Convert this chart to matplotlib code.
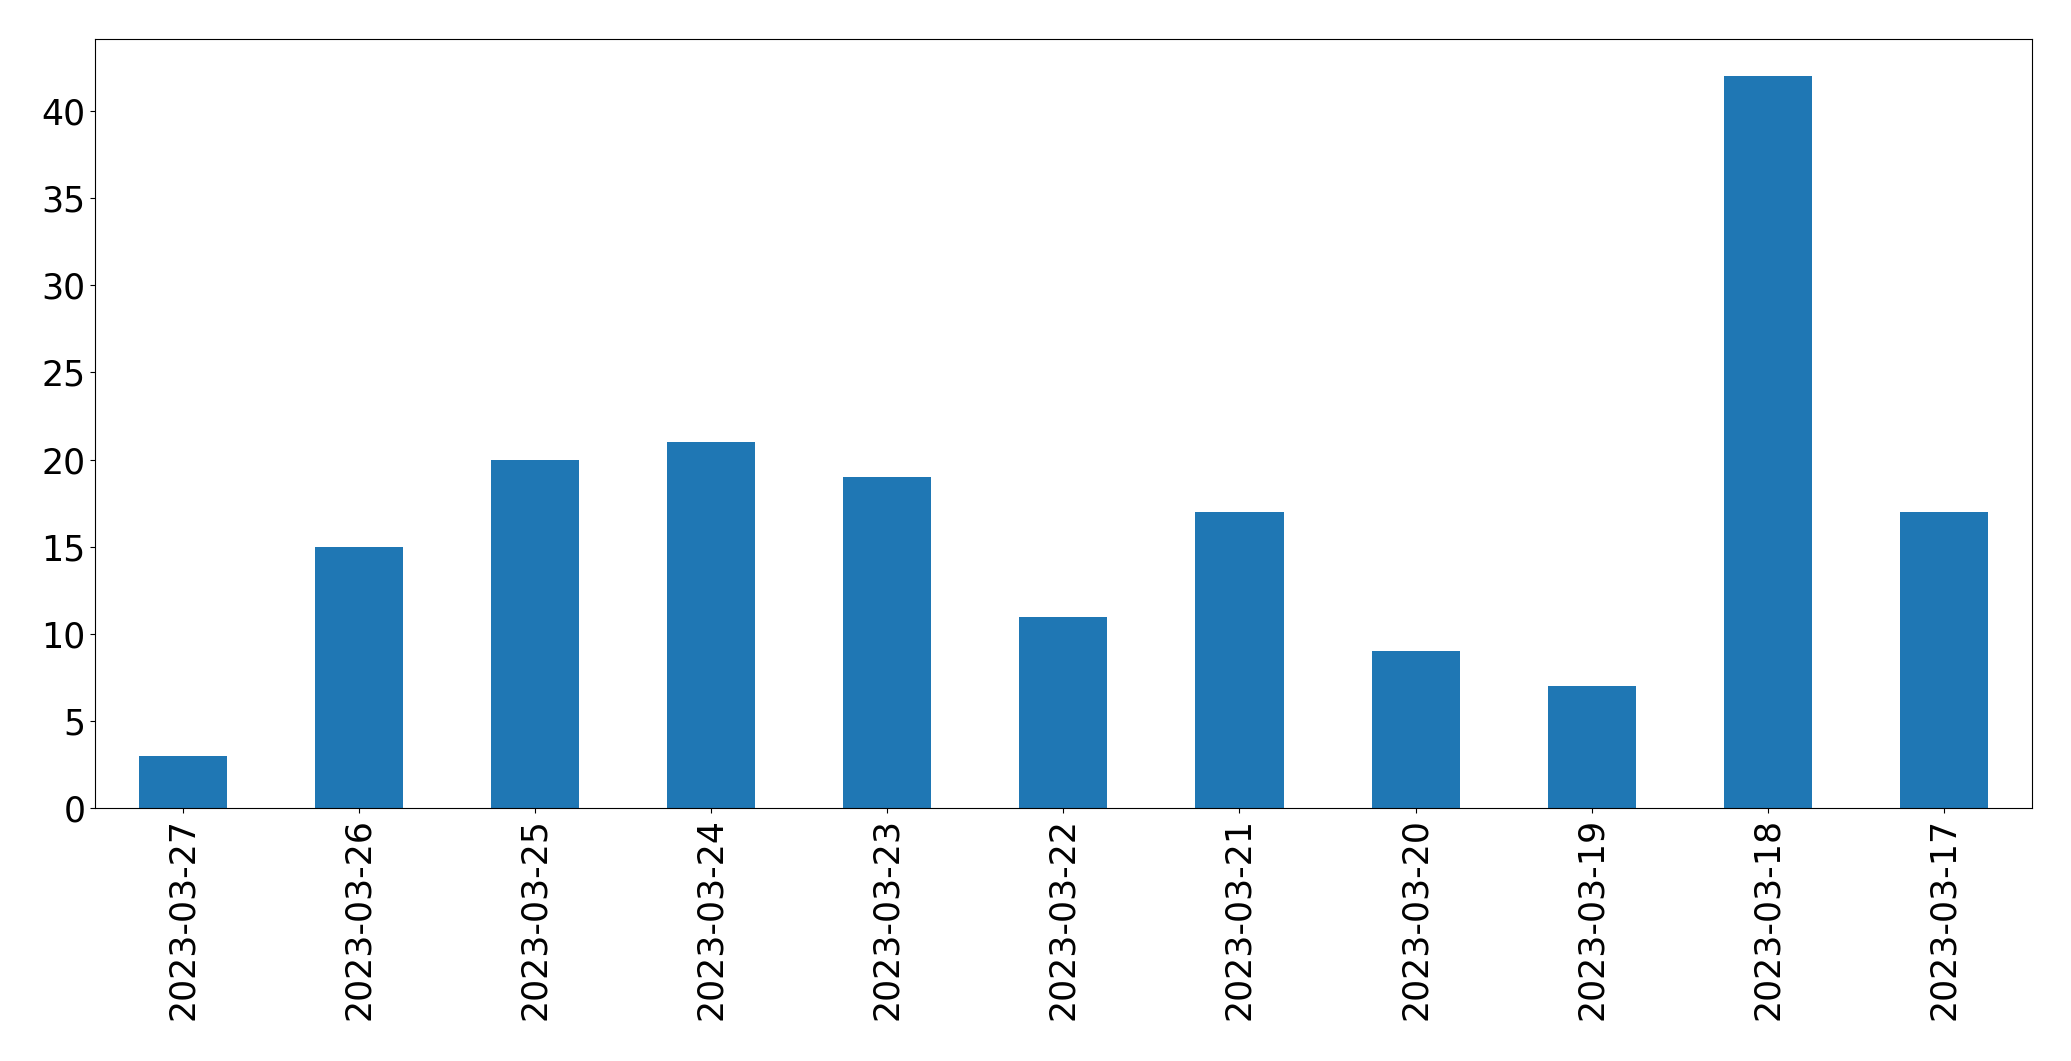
import matplotlib
matplotlib.use("Agg")
import matplotlib.pyplot as plt

dates = ["2023-03-27", "2023-03-26", "2023-03-25", "2023-03-24", "2023-03-23",
         "2023-03-22", "2023-03-21", "2023-03-20", "2023-03-19", "2023-03-18",
         "2023-03-17"]
counts = [3, 15, 20, 21, 19, 11, 17, 9, 7, 42, 17]

fig, ax = plt.subplots(figsize=(20.71, 10.61), dpi=100)
x = list(range(len(dates)))
ax.bar(x, counts, width=0.5, color="#1f77b4")
ax.set_xlim(-0.5, len(dates) - 0.5)
ax.set_xticks(x)
ax.set_xticklabels(dates, rotation=90)
ax.tick_params(labelsize=25)
plt.subplots_adjust(left=0.046, right=0.981, top=0.963, bottom=0.238)
plt.savefig("out.png")
